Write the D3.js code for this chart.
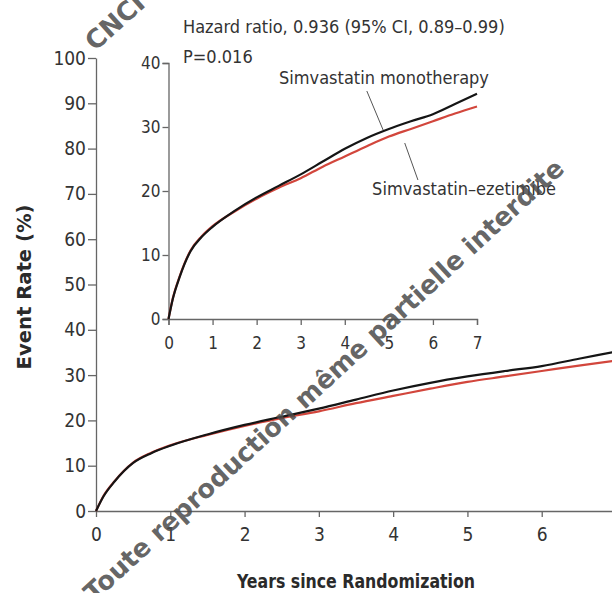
<!DOCTYPE html>
<html>
<head>
<meta charset="utf-8">
<script src="https://cdn.jsdelivr.net/npm/d3@7"></script>
<style>
  body { margin: 0; background: #fff; }
  svg { display: block; }
  .tick-text, .note { font-family: "DejaVu Sans Condensed", "DejaVu Sans", sans-serif; fill: #333; }
  .axis-title { font-family: "DejaVu Sans Condensed", "DejaVu Sans", sans-serif; font-weight: bold; fill: #2a2a2a; }
  .axis path, .axis line { stroke: #666; stroke-width: 1.3; }
</style>
</head>
<body>
<svg id="chart" width="612" height="593"></svg>
<script>
// years since randomization
var years = [0, 0.1, 0.25, 0.5, 0.75, 1, 1.5, 2, 2.5, 3, 3.5, 4, 4.5, 5, 5.5, 6, 6.5, 7];
// event rate (%)
var monotherapy = [0, 3.2, 6.5, 10.6, 12.8, 14.4, 16.9, 19.0, 20.8, 22.6, 24.6, 26.6, 28.3, 29.7, 30.9, 32.0, 33.6, 35.2];
var ezetimibe   = [0, 3.3, 6.6, 10.7, 12.9, 14.5, 16.8, 18.8, 20.5, 22.0, 23.8, 25.4, 27.0, 28.5, 29.7, 30.9, 32.1, 33.2];

var mainYTicks = [0, 10, 20, 30, 40, 50, 60, 70, 80, 90, 100];
var mainXTicks = [0, 1, 2, 3, 4, 5, 6];
var insetYTicks = [0, 10, 20, 30, 40];
var insetXTicks = [0, 1, 2, 3, 4, 5, 6, 7];

var series = [
  { name: 'Simvastatin\u2013ezetimibe', values: ezetimibe, color: '#d2463c' },
  { name: 'Simvastatin monotherapy', values: monotherapy, color: '#151515' }
];

var svg = d3.select('#chart');

// main chart
var x = d3.scaleLinear().domain([0, 7]).range([96, 616]);
var y = d3.scaleLinear().domain([0, 100]).range([511, 58]);

// inset chart
var xi = d3.scaleLinear().domain([0, 7]).range([168.5, 477]);
var yi = d3.scaleLinear().domain([0, 40]).range([319, 63]);

function styleAxis(size) {
  return function(g) {
    g.attr('class', 'axis');
    g.selectAll('text').attr('class', 'tick-text').style('font-size', size + 'px').attr('fill', null);
    g.selectAll('line').attr('stroke', null);
    g.select('.domain').attr('stroke', null);
  };
}

var fmt = d3.format('d');

svg.append('g')
  .attr('transform', 'translate(' + x(0) + ',0)')
  .call(d3.axisLeft(y).tickValues(mainYTicks).tickFormat(fmt).tickSize(8).tickPadding(2).tickSizeOuter(0))
  .call(styleAxis(19));

svg.append('g')
  .attr('transform', 'translate(0,' + y(0) + ')')
  .call(d3.axisBottom(x).tickValues(mainXTicks).tickFormat(fmt).tickSize(6).tickPadding(11).tickSizeOuter(0))
  .call(styleAxis(19));

svg.append('g')
  .attr('transform', 'translate(' + xi(0) + ',0)')
  .call(d3.axisLeft(yi).tickValues(insetYTicks).tickFormat(fmt).tickSize(6).tickPadding(2).tickSizeOuter(6))
  .call(styleAxis(17));

svg.append('g')
  .attr('transform', 'translate(0,' + yi(0) + ')')
  .call(d3.axisBottom(xi).tickValues(insetXTicks).tickFormat(fmt).tickSize(6).tickPadding(12).tickSizeOuter(6))
  .call(styleAxis(17));

// curves
function drawLines(sx, sy) {
  var line = d3.line()
    .x(function(d, i) { return sx(years[i]); })
    .y(function(d) { return sy(d); })
    .curve(d3.curveMonotoneX);
  series.forEach(function(s) {
    svg.append('path')
      .attr('d', line(s.values))
      .attr('fill', 'none')
      .attr('stroke', s.color)
      .attr('stroke-width', 2.2);
  });
}
drawLines(x, y);
drawLines(xi, yi);

// annotations
svg.append('text').attr('class', 'note').style('font-size', '18px')
  .attr('x', 183).attr('y', 33)
  .text('Hazard ratio, 0.936 (95% CI, 0.89\u20130.99)');
svg.append('text').attr('class', 'note').style('font-size', '18px')
  .attr('x', 183).attr('y', 63)
  .text('P=0.016');

svg.append('text').attr('class', 'note').style('font-size', '18px')
  .attr('x', 384).attr('y', 84).attr('text-anchor', 'middle')
  .text(series[1].name);
svg.append('line')
  .attr('x1', xi(4.5)).attr('y1', 91)
  .attr('x2', xi(4.87)).attr('y2', 130)
  .attr('stroke', '#555').attr('stroke-width', 1);

svg.append('text').attr('class', 'note').style('font-size', '18px')
  .attr('x', 464).attr('y', 195).attr('text-anchor', 'middle')
  .text(series[0].name);
svg.append('line')
  .attr('x1', xi(5.36)).attr('y1', 143)
  .attr('x2', xi(5.66)).attr('y2', 180)
  .attr('stroke', '#555').attr('stroke-width', 1);

// axis titles
svg.append('text').attr('class', 'axis-title').style('font-size', '19px')
  .attr('transform', 'translate(31,287) rotate(-90)')
  .attr('text-anchor', 'middle')
  .attr('textLength', 165).attr('lengthAdjust', 'spacingAndGlyphs')
  .text('Event Rate (%)');
svg.append('text').attr('class', 'axis-title').style('font-size', '20px')
  .attr('x', 237).attr('y', 588)
  .attr('textLength', 238).attr('lengthAdjust', 'spacingAndGlyphs')
  .text('Years since Randomization');

// watermark
svg.append('text')
  .attr('transform', 'translate(94,603) rotate(-42.5)')
  .style('font-family', '"DejaVu Sans", sans-serif').style('font-weight', 'bold')
  .style('font-size', '26px').attr('fill', '#4a4a4a').attr('fill-opacity', 0.85)
  .attr('textLength', 640).attr('lengthAdjust', 'spacingAndGlyphs')
  .text('Toute reproduction m\u00eame partielle interdite');
svg.append('text')
  .attr('transform', 'translate(95,52) rotate(-42)')
  .style('font-family', '"DejaVu Sans", sans-serif').style('font-weight', 'bold')
  .style('font-size', '26px').attr('fill', '#4a4a4a').attr('fill-opacity', 0.85)
  .text('CNCI');
</script>
</body>
</html>
